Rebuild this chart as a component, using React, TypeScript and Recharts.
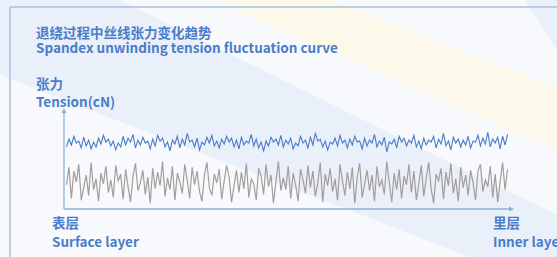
import React from "react";
import { LineChart, Line, XAxis, YAxis } from "recharts";

// upper trace (blue) - tension readings
const upperTension = [
  6.4, 7.2, 6.6, 7.5, 6.8, 7.0, 6.3, 7.4, 6.5, 7.1, 6.2, 6.9, 6.4, 7.3, 6.7, 7.6, 6.9, 7.2, 6.5, 7.0,
  6.1, 6.8, 6.4, 7.5, 6.6, 7.3, 6.9, 7.7, 6.3, 7.1, 6.6, 7.4, 6.8, 7.0, 6.2, 7.2, 6.5, 7.6, 7.0, 7.3,
  6.4, 6.9, 6.0, 7.1, 6.7, 7.5, 6.3, 7.2, 6.6, 7.8, 6.9, 7.1, 6.4, 7.3, 6.1, 6.9, 6.6, 7.4, 6.8, 7.6,
  6.5, 7.0, 6.3, 7.2, 6.7, 7.5, 6.9, 7.3, 6.4, 7.1, 6.2, 7.4, 6.6, 7.0, 6.8, 7.7, 6.5, 7.2, 6.3, 6.9,
  6.0, 7.0, 6.5, 7.4, 6.9, 7.2, 6.6, 7.6, 6.4, 7.1, 6.7, 7.3, 6.2, 6.8, 6.5, 7.5, 6.8, 7.1, 6.3, 7.4,
  6.6, 7.8, 7.0, 7.2, 6.4, 7.0, 6.1, 6.9, 6.7, 7.3, 6.5, 7.6, 6.8, 7.1, 6.3, 7.2, 6.6, 7.5, 6.9, 7.0,
  6.2, 7.3, 6.5, 7.1, 6.8, 7.7, 6.4, 7.0, 6.6, 7.4, 5.9, 6.9, 6.7, 7.2, 6.3, 7.5, 6.9, 7.3, 6.5, 7.1,
  6.8, 7.6, 6.4, 7.0, 6.2, 7.3, 6.6, 7.1, 6.9, 7.5, 6.3, 7.2, 6.7, 7.8, 6.5, 7.0, 6.1, 7.4, 6.8, 7.2,
  6.4, 7.1, 6.6, 7.5, 6.3, 7.0, 6.9, 7.6, 6.5, 7.3, 6.7, 7.9, 6.4, 7.2, 6.8, 7.4, 6.2, 7.5, 6.6, 7.7,
];

// lower trace (grey)
const lowerTension = [
  2.5, 4.3, 1.1, 3.9, 2.8, 4.6, 0.9, 2.2, 3.5, 1.4, 4.8, 2.0, 3.1, 0.8, 3.7, 2.6, 4.4, 1.7, 3.0, 1.2,
  4.5, 2.9, 3.6, 1.0, 4.1, 2.3, 0.7, 3.4, 4.7, 1.9, 2.7, 4.0, 1.5, 3.3, 0.6, 4.2, 2.1, 3.8, 2.4, 4.9,
  1.3, 3.2, 2.0, 4.4, 0.9, 3.7, 2.8, 1.6, 4.6, 3.0, 1.1, 4.3, 2.5, 3.9, 1.8, 0.8, 3.5, 4.8, 2.2, 1.4,
  3.6, 2.7, 4.1, 1.0, 2.9, 4.5, 3.3, 0.7, 2.4, 4.0, 1.7, 3.8, 2.1, 4.7, 1.2, 3.1, 2.6, 0.9, 4.2, 3.4,
  1.5, 4.6, 2.3, 3.5, 0.6, 2.8, 4.9, 1.9, 3.2, 2.0, 4.4, 1.1, 3.7, 2.5, 0.8, 4.1, 3.0, 1.6, 4.5, 2.2,
  3.9, 1.3, 2.7, 4.8, 0.7, 3.6, 2.4, 4.2, 1.8, 3.1, 0.9, 4.6, 2.9, 1.4, 3.8, 2.1, 4.3, 0.6, 3.3, 4.7,
  1.2, 2.6, 4.0, 1.9, 3.5, 0.8, 4.4, 2.3, 3.0, 1.5, 4.9, 2.8, 0.7, 3.7, 2.0, 4.1, 1.1, 3.4, 2.5, 4.6,
  1.7, 3.9, 0.9, 2.6, 4.5, 1.3, 3.2, 4.8, 2.1, 0.6, 3.6, 2.9, 4.2, 1.0, 3.8, 2.4, 4.7, 1.6, 3.1, 0.8,
  4.3, 2.2, 3.5, 1.4, 4.0, 2.7, 0.9, 3.9, 4.6, 1.8, 3.0, 2.3, 4.4, 1.2, 3.6, 0.7, 2.8, 4.8, 2.0, 4.1,
];

const yDomain = [0, 10];

const data = upperTension.map((v, i) => ({ i, upper: v, lower: lowerTension[i] }));

const W = 557;
const H = 257;
const margin = { top: 112, right: 47, bottom: 48, left: 64 };
const axisColor = "#8fb0d8";
const textColor = "#4a7dc9";
const font = "'Noto Sans CJK SC', 'Noto Sans', sans-serif";

// one text line, top = centre - 7
const line = (centre: number, left: number, text: string) => (
  <div
    key={text}
    style={{
      position: "absolute",
      top: centre - 7,
      left,
      fontFamily: font,
      fontWeight: 700,
      fontSize: 13.5,
      lineHeight: "14px",
      color: textColor,
      whiteSpace: "nowrap",
    }}
  >
    {text}
  </div>
);

export default function App() {
  const x1 = margin.left;
  const x2 = W - margin.right;
  const y1 = margin.top;
  const y2 = H - margin.bottom;

  return (
    <div
      style={{
        position: "absolute",
        left: 0,
        top: 0,
        width: W,
        height: H,
        overflow: "hidden",
        background: "#f8f9fc",
      }}
    >
      {/* backdrop bands */}
      <svg width={W} height={H} style={{ position: "absolute", left: 0, top: 0 }}>
        <polygon points="0,0 120,0 557,215 557,257 470,257 0,75" fill="#e7eef8" opacity={0.85} />
        <polygon points="213,0 330,0 557,88 557,150" fill="#fcf8ea" />
        <polygon points="525,0 557,0 557,50" fill="#eaf0f9" />
        <line x1={10} y1={7} x2={W} y2={7} stroke="#a9c1de" strokeWidth={1.5} />
        <line x1={10} y1={7} x2={10} y2={H} stroke="#a9c1de" strokeWidth={1.5} />
      </svg>

      <div style={{ position: "absolute", left: 0, top: 0 }}>
        <LineChart width={W} height={H} data={data} margin={margin}>
          <XAxis type="number" dataKey="i" domain={[-1, upperTension.length]} hide />
          <YAxis domain={yDomain} hide />
          <Line
            dataKey="lower"
            stroke="#a49d9b"
            strokeWidth={1.2}
            dot={false}
            isAnimationActive={false}
          />
          <Line
            dataKey="upper"
            stroke="#4a7bc8"
            strokeWidth={1.1}
            dot={false}
            isAnimationActive={false}
          />
        </LineChart>
      </div>

      {/* axes with arrow heads */}
      <svg width={W} height={H} style={{ position: "absolute", left: 0, top: 0 }}>
        <line x1={x1} y1={y2} x2={x2} y2={y2} stroke={axisColor} strokeWidth={1.3} />
        <line x1={x1} y1={y2} x2={x1} y2={y1} stroke={axisColor} strokeWidth={1.3} />
        <polygon points={`${x2 + 4},${y2} ${x2 - 1},${y2 - 2.5} ${x2 - 1},${y2 + 2.5}`} fill={axisColor} />
        <polygon points={`${x1},${y1 - 4} ${x1 - 2.5},${y1 + 1} ${x1 + 2.5},${y1 + 1}`} fill={axisColor} />
      </svg>

      {line(31.5, 36, "退绕过程中丝线张力变化趋势")}
      {line(47, 36, "Spandex unwinding tension fluctuation curve")}
      {line(83, 36, "张力")}
      {line(100.5, 36, "Tension(cN)")}
      {line(222, 52, "表层")}
      {line(241, 52, "Surface layer")}
      {line(222, 493, "里层")}
      {line(241, 493, "Inner layer")}
    </div>
  );
}
